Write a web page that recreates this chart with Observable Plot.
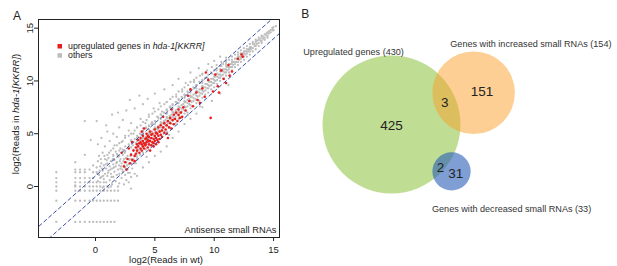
<!DOCTYPE html>
<html><head><meta charset="utf-8">
<script src="https://cdn.jsdelivr.net/npm/d3@7"></script>
<script src="https://cdn.jsdelivr.net/npm/@observablehq/plot@0.6"></script>
<style>
html,body{margin:0;padding:0;background:#fff;}
#fig{position:relative;width:617px;height:266px;overflow:hidden;font-family:"Liberation Sans",Arial,sans-serif;}
#fig svg{position:absolute;top:0;}
</style></head><body><div id="fig"></div>
<script>
// ---------- Panel A data ----------
const xTicks = [0, 5, 10, 15];
const yTicks = [0, 5, 10, 15];
const foldOffsets = [1, -1];
const panelATitle = "Antisense small RNAs";
const legendLabels = ["upregulated genes in ", "others"];

// low-count grid of "others" (x, list of y)
const lowGrid = [
 [-3.3,[1.35,0.8,0.4,0.0,-0.4,-1.35,-3.35]],
 [-1.7,[2.3,1.6,1.35,0.8,0.4,0.1,0.0,-0.4,-1.35,-3.35]],
 [-1.3,[1.6,1.35,0.8,0.4,0.0,-0.4,-1.35,-3.35]],
 [-0.9,[3.0,1.6,1.35,0.8,0.4,0.0,-0.4,-1.35,-3.35]],
 [-0.5,[1.6,0.8,0.4,0.0,-0.4,-1.35,-3.35]],
 [-0.2,[2.0,1.35,0.8,0.4,0.0,-0.4,-1.35,-3.35]],
 [0.1,[1.35,0.4,0.0,-0.4,-1.35,-3.35]],
 [0.4,[0.8,0.4,0.0,-0.4,-1.35,-3.35]],
 [0.7,[0.4,0.0,-0.4,-1.35,-3.35]],
 [1.0,[0.0,-0.4,-1.35,-3.35]],
 [1.3,[0.0,-0.4,-1.35,-3.35]],
 [1.6,[-0.4,-1.35,-3.35]],
 [1.9,[-0.4,-1.35]]
];
// dense blob of "others" at low counts
const lowBlob = [
 [0.1,1.8],[0.2,2.4],[0.3,1.1],[0.3,2.9],[0.4,1.9],[0.5,0.9],[0.5,2.2],[0.6,1.5],[0.6,3.2],[0.7,2.0],
 [0.7,0.7],[0.8,1.2],[0.8,2.6],[0.9,1.7],[0.9,0.4],[1.0,2.2],[1.0,1.0],[1.0,3.0],[1.1,1.5],[1.1,2.7],
 [1.2,0.6],[1.2,1.9],[1.3,2.4],[1.3,1.2],[1.3,3.4],[1.4,0.2],[1.4,1.7],[1.5,2.1],[1.5,0.9],[1.5,2.9],
 [1.6,1.4],[1.6,2.5],[1.7,0.5],[1.7,1.9],[1.7,3.3],[1.8,1.1],[1.8,2.3],[1.9,1.6],[1.9,2.8],[2.0,0.3],
 [2.0,2.0],[2.0,1.2],[2.1,2.6],[2.1,1.7],[2.1,3.6],[2.2,0.8],[2.2,2.2],[2.3,1.4],[2.3,3.0],[2.4,2.0],
 [2.4,2.6],[2.5,1.1],[2.5,1.8],[2.5,3.4],[2.6,2.3],[2.6,0.6],[2.7,2.9],[2.7,1.6],[2.8,2.1],[2.8,3.8],
 [2.9,2.6],[2.9,1.3],[3.0,2.2],[3.0,3.1],[3.0,0.9],[0.2,0.5],[0.6,-0.1],[1.1,-0.1],[1.9,0.0],[2.4,0.2],
 [2.8,0.4],[3.1,1.7],[3.2,2.6],[3.2,3.5],[3.3,1.2],[3.3,2.9],[3.4,2.2],[3.4,4.1],[3.5,2.6],[3.5,3.3],
 [0.35,1.5],[0.85,2.1],[1.25,1.6],[1.45,2.6],[1.75,2.2],[2.15,1.9],[2.35,2.4],[2.65,2.0],[2.95,2.9],[1.05,1.3],
 [0.45,2.6],[0.65,1.0],[0.95,2.5],[1.15,3.2],[1.35,0.9],[1.55,1.8],[1.85,3.0],[2.05,2.4],[2.25,1.6],[2.45,3.2],
 [2.55,2.7],[2.75,1.3],[2.85,2.5],[3.05,2.6],[3.15,3.9],[3.25,2.2],[3.45,2.9],[0.15,1.2],[0.55,1.7],[0.75,2.9]
];
// scattered "others" above / below the diagonal
const outliers = [
 [-0.9,6.2],[0.1,6.2],[-0.4,4.4],[0.2,4.0],[0.5,4.6],[0.8,3.8],[1.0,5.2],[1.2,4.3],[1.4,6.8],[1.6,3.9],
 [1.8,4.7],[2.0,5.6],[2.2,4.2],[2.3,6.3],[2.5,4.8],[2.6,7.2],[2.8,5.3],[3.0,4.4],[3.0,6.0],[3.2,5.0],
 [3.3,7.4],[3.5,5.6],[3.6,4.7],[3.8,6.4],[4.0,5.5],[4.0,7.8],[4.2,6.0],[4.4,8.3],[4.5,6.8],[4.7,5.9],
 [4.9,7.4],[5.0,8.8],[5.2,6.6],[5.4,7.9],[5.6,7.1],[5.8,9.2],[6.0,8.0],[6.3,7.6],[6.5,9.6],[6.8,8.5],
 [7.0,10.2],[7.3,9.0],[7.6,9.8],[8.0,10.8],[8.3,9.9],[8.7,11.2],[9.0,10.6],[9.5,11.6],[10.0,11.9],[10.5,12.3],
 [1.9,7.0],[0.9,5.8],[1.5,5.0],[2.9,8.2],[3.7,8.6],
 [3.5,1.0],[4.0,1.8],[4.5,2.3],[5.0,2.9],[5.5,3.3],[6.0,3.8],[6.5,4.6],[7.0,5.2],[7.5,5.9],[8.0,6.4],
 [8.5,6.9],[9.0,7.5],[9.8,8.1],[10.5,8.8],[11.2,9.6],[6.2,4.9],[7.8,6.8],[8.8,7.6],[3.0,-0.2],[4.3,2.8]
];
// main diagonal band of "others" (x, list of y)
const band = [
 [3.5,[3.2,3.9,4.6,2.8,4.3,3.6]],[3.6,[3.5,4.1]],[3.75,[3.5,4.4,3.0,5.0,4.0]],[3.9,[3.9,4.4]],
 [4.0,[3.7,4.6,3.2,5.3,4.1,4.9]],[4.1,[4.0,4.6]],[4.25,[4.1,4.7,3.5,5.6,4.4]],[4.4,[4.3,4.9]],
 [4.5,[4.2,5.1,3.9,5.7,4.6,5.4]],[4.6,[4.5,5.0]],[4.75,[4.6,5.2,4.0,6.1,4.9]],[4.9,[4.8,5.4]],
 [5.0,[4.7,5.6,4.4,6.2,5.1,5.9]],[5.1,[5.0,5.5]],[5.25,[5.1,5.7,4.5,6.6,5.4]],[5.4,[5.3,5.8]],
 [5.5,[5.2,6.1,4.9,6.8,5.6,6.4]],[5.6,[5.4,6.0]],[5.75,[5.6,6.2,5.0,7.0,5.9]],[5.9,[5.8,6.3]],
 [6.0,[5.7,6.6,5.2,7.3,6.1,6.9]],[6.1,[6.0,6.5]],[6.25,[6.1,6.7,5.6,7.5,6.4]],[6.4,[6.3,6.8]],
 [6.5,[6.2,7.1,5.9,7.8,6.6,7.4]],[6.6,[6.5,7.0]],[6.75,[6.6,7.2,6.0,8.0,6.9]],[6.9,[6.8,7.3]],
 [7.0,[6.7,7.6,6.4,8.3,7.1,7.9]],[7.1,[7.0,7.5]],[7.25,[7.1,7.7,6.5,8.5,7.4]],[7.4,[7.3,7.8]],
 [7.5,[7.2,8.1,6.9,8.7,7.6,8.4]],[7.6,[7.5,8.0]],[7.75,[7.6,8.2,7.0,9.0,7.9]],[7.9,[7.8,8.3]],
 [8.0,[7.7,8.6,7.4,9.2,8.1,8.9]],[8.1,[8.0,8.5]],[8.25,[8.1,8.7,7.6,9.4,8.4]],[8.4,[8.3,8.8]],
 [8.5,[8.2,9.0,7.9,9.6,8.6,9.3]],[8.6,[8.5,9.0]],[8.75,[8.6,9.2,8.1,9.9,8.9]],[8.9,[8.8,9.2]],
 [9.0,[8.8,9.5,8.4,10.1,9.1,9.8]],[9.1,[9.0,9.4]],[9.25,[9.1,9.7,8.7,10.3,9.4]],[9.4,[9.3,9.7]],
 [9.5,[9.3,10.0,8.9,10.6,9.6,10.2]],[9.6,[9.5,9.9]],[9.75,[9.6,10.2,9.2,10.8,9.9]],[9.9,[9.8,10.2]],
 [10.0,[9.8,10.4,9.4,11.0,10.1,10.6]],[10.1,[10.0,10.4]],[10.25,[10.1,10.7,9.7,11.2,10.4]],[10.4,[10.3,10.6]],
 [10.5,[10.3,10.9,10.0,11.4,10.6,11.1]],[10.6,[10.5,10.9]],[10.75,[10.6,11.1,10.2,11.6,10.9]],[10.9,[10.8,11.1]],
 [11.0,[10.8,11.4,10.5,11.9,11.1,11.6]],[11.1,[11.0,11.3]],[11.25,[11.1,11.6,10.8,12.0,11.3]],[11.4,[11.3,11.6]],
 [11.5,[11.3,11.8,11.0,12.3,11.6,12.0]],[11.6,[11.5,11.8]],[11.75,[11.6,12.1,11.3,12.5,11.8]],[11.9,[11.8,12.1]],
 [12.0,[11.8,12.3,11.5,12.7,12.1,12.5]],[12.1,[12.0,12.3]],[12.25,[12.1,12.6,11.8,12.9,12.3]],[12.4,[12.3,12.6]],
 [12.5,[12.3,12.8,12.0,13.1,12.6]],[12.6,[12.5,12.8]],[12.75,[12.6,13.0,12.3,13.3,12.8]],[12.9,[12.8,13.0]],
 [13.0,[12.8,13.2,12.5,13.5,13.0]],[13.1,[13.0,13.2]],[13.25,[13.1,13.5,12.8,13.7]],[13.4,[13.3,13.5]],
 [13.5,[13.3,13.7,13.0,13.9]],[13.6,[13.5,13.8]],[13.75,[13.6,13.9,13.3,14.1]],[13.9,[13.8,14.0]],
 [14.0,[13.8,14.2,13.6,14.3]],[14.1,[14.0,14.2]],[14.25,[14.1,14.4,13.9]],[14.4,[14.3,14.5]],
 [14.5,[14.3,14.6,14.1]],[14.6,[14.5,14.7]],[14.75,[14.6,14.8]],[14.9,[14.8,15.0]],[15.0,[14.8,15.1]],[15.2,[15.2]]
];
// upper half of the band (genes with more reads in the mutant)
const upperBand = [
 [1.5,[3.0,3.6,2.6]],[1.8,[3.1,3.9]],[2.0,[3.4,4.1,2.9]],[2.3,[3.5,4.3]],[2.5,[3.8,4.6,3.3]],[2.8,[4.0,4.8]],
 [3.0,[4.3,5.0,3.7]],[3.3,[4.5,5.3]],[3.5,[4.8,5.6,4.0]],[3.8,[5.0,5.8]],[4.0,[5.2,6.1,4.6]],[4.3,[5.5,6.3]],
 [4.5,[5.8,6.6,5.0]],[4.8,[6.0,6.9]],[5.0,[6.2,7.1,5.5]],[5.3,[6.5,7.3]],[5.5,[6.8,7.6,6.0]],[5.8,[7.0,7.8]],
 [6.0,[7.2,8.0,6.5]],[6.3,[7.5,8.3]],[6.5,[7.7,8.5,7.0]],[6.8,[8.0,8.7]],[7.0,[8.2,9.0,7.5]],[7.3,[8.4,9.2]],
 [7.5,[8.7,9.4,8.0]],[7.8,[8.9,9.6]],[8.0,[9.1,9.9,8.5]],[8.3,[9.3,10.1]],[8.5,[9.6,10.3,9.0]],[8.8,[9.8,10.5]],
 [9.0,[10.0,10.7,9.5]],[9.4,[10.3,11.0]],[9.8,[10.7,11.3]],[10.2,[11.0,11.5]],[10.6,[11.4,11.8]],[11.0,[11.8,12.2]]
];
// upregulated genes in hda-1[KKRR]
const upregulated = [
 [2.4,1.9],[2.5,2.3],[2.7,2.6],[2.9,2.2],[3.0,3.0],[3.1,2.5],[3.2,3.4],[3.3,2.9],[3.4,3.7],[3.4,3.1],
 [3.5,4.0],[3.5,3.4],[3.6,3.8],[3.6,4.4],[3.7,3.2],[3.7,4.1],[3.8,3.6],[3.8,4.6],[3.9,4.0],[3.9,3.4],
 [4.0,4.3],[4.0,3.8],[4.0,4.8],[4.1,3.6],[4.1,4.1],[4.2,4.5],[4.2,3.9],[4.3,4.2],[4.3,5.0],[4.4,3.7],
 [4.4,4.4],[4.5,4.0],[4.5,4.7],[4.6,4.3],[4.6,5.2],[4.7,3.9],[4.7,4.6],[4.8,4.2],[4.8,5.0],[4.9,4.5],
 [4.9,3.8],[5.0,4.8],[5.0,4.3],[5.0,5.4],[5.1,4.6],[5.1,4.0],[5.2,5.0],[5.2,4.4],[5.3,4.8],[5.3,5.6],
 [5.4,4.5],[5.4,5.2],[5.5,4.9],[5.5,5.8],[5.6,5.3],[5.6,4.7],[5.7,5.6],[5.8,5.1],[5.8,6.0],[5.9,5.4],
 [6.0,5.8],[6.0,5.0],[6.1,6.2],[6.2,5.6],[6.3,6.0],[6.3,6.5],[6.4,5.5],[6.5,6.3],[6.6,6.8],[6.6,5.9],
 [6.7,6.4],[6.8,7.0],[6.9,6.2],[7.0,6.8],[7.0,7.3],[7.1,6.5],[7.2,7.0],[7.3,6.6],[7.4,7.5],[7.6,7.2],
 [2.2,3.2],[2.8,3.6],[3.1,4.2],[2.6,1.6],[3.9,5.2],[4.1,5.5],[5.7,6.6],[6.4,7.3],[6.1,4.6],[4.6,3.4],
 [3.3,2.4],[4.3,4.6],[4.5,4.3],[4.7,4.9],[4.9,4.1],[5.1,5.1],[3.8,4.2],[4.2,4.0],[5.3,4.2],[4.4,4.8],
 [7.9,8.1],[8.2,7.6],[8.5,8.9],[8.8,7.9],[9.0,9.3],[9.2,8.5],[9.5,10.1],[9.7,6.5],[9.9,9.0],[10.1,10.6],
 [10.3,9.5],[10.6,11.0],[10.8,10.2],[11.0,9.8],[11.2,11.5],[11.5,10.9],[12.0,12.1],[12.3,12.5],[12.4,12.3],[8.0,9.2],
 [9.3,10.8],[10.4,8.9],[11.3,10.5],[7.8,8.6],[8.6,8.2]
];

const others = [
  ...lowGrid.flatMap(([x, ys]) => ys.map(y => [x, y])),
  ...lowBlob,
  ...outliers,
  ...band.flatMap(([x, ys]) => ys.map(y => [x, y])),
  ...upperBand.flatMap(([x, ys]) => ys.map(y => [x, y]))
];

// ---------- Panel B data ----------
const setNames = ["Upregulated genes", "Genes with increased small RNAs", "Genes with decreased small RNAs"];
const setTotals = [430, 154, 33];
const regionCounts = [425, 151, 3, 2, 31];

// ---------- Panel A ----------
const xDom = [-4.8, 15.5], yDom = [-4.83, 15.82];
const foldLines = foldOffsets.flatMap(o => [
  {o, x: xDom[0] - 2, y: xDom[0] - 2 + o},
  {o, x: xDom[1] + 2, y: xDom[1] + 2 + o}
]);
const font = "'Liberation Sans', Arial, sans-serif";

const A = Plot.plot({
  width: 290, height: 266,
  marginLeft: 38, marginRight: 11, marginTop: 19, marginBottom: 29,
  x: {domain: xDom}, y: {domain: yDom},
  style: {fontFamily: font, fontSize: "9px", color: "#222", background: "transparent", overflow: "visible"},
  marks: [
    Plot.dot(others, {x: d => d[0], y: d => d[1], r: 1.15, fill: "#bdbdbd", stroke: null}),
    Plot.dot(upregulated, {x: d => d[0], y: d => d[1], r: 1.3, fill: "#ea1c1c", stroke: null}),
    Plot.line(foldLines, {x: "x", y: "y", z: "o", stroke: "#3a4ea8", strokeWidth: 1, strokeDasharray: "3.5,3", clip: true}),
    Plot.frame({stroke: "#222", strokeWidth: 1}),
    Plot.axisX({ticks: xTicks, tickSize: 4, tickPadding: 4.5, label: null, fontSize: 9.5}),
    Plot.axisY({ticks: yTicks, tickSize: 4, tickPadding: 1.5, tickRotate: -90, label: null, fontSize: 9.5}),
    Plot.text([panelATitle], {frameAnchor: "bottom-right", dx: -3, dy: -5, fontSize: 9.3, fill: "#222"}),
    Plot.text(["A"], {frameAnchor: "top-left", dx: -25.5, dy: -8.5, fontSize: 12, fill: "#222"})
  ]
});

// axis titles and legend (with italic genotype)
const sA = d3.select(A);
const yt = sA.append("text")
  .attr("transform", "translate(18.5,114) rotate(-90)")
  .attr("text-anchor", "middle").attr("font-size", 9.5).attr("fill", "#222");
yt.append("tspan").text("log2(Reads in ");
yt.append("tspan").attr("font-style", "italic").text("hda-1[KKRR]");
yt.append("tspan").text(")");
sA.append("text").attr("x", 166).attr("y", 263).attr("text-anchor", "middle")
  .attr("font-size", 9.5).attr("fill", "#222").text("log2(Reads in wt)");

const legColors = ["#ea1c1c", "#bdbdbd"];
legendLabels.forEach((lab, i) => {
  sA.append("rect").attr("x", 57.5).attr("y", 44 + i * 9.2).attr("width", 4.5).attr("height", 4.5).attr("fill", legColors[i]);
  const t = sA.append("text").attr("x", 68).attr("y", 48.8 + i * 9.2).attr("text-anchor", "start")
    .attr("font-size", 8.8).attr("fill", "#222");
  t.append("tspan").text(lab);
  if (i === 0) t.append("tspan").attr("font-style", "italic").text("hda-1[KKRR]");
});

// ---------- Panel B (Venn) ----------
const circles = [
  {name: setNames[0], total: setTotals[0], cx: 0, cy: 0, fill: "rgba(127,187,39,0.5)"},
  {name: setNames[1], total: setTotals[1], cx: 1.19, cy: 0.46, fill: "rgba(251,159,43,0.5)"},
  {name: setNames[2], total: setTotals[2], cx: 0.87, cy: -0.68, fill: "rgba(42,93,183,0.6)"}
];
const regionPos = [[0, -0.02], [1.31, 0.48], [0.77, 0.31], [0.71, -0.62], [0.93, -0.71]];
const regions = regionCounts.map((n, i) => ({n: String(n), x: regionPos[i][0], y: regionPos[i][1]}));
const labelPos = [[-0.55, 1.05], [2.02, 1.17], [1.74, -1.23]];
const setLabels = setNames.map((s, i) => ({t: `${s} (${setTotals[i]})`, x: labelPos[i][0], y: labelPos[i][1]}));

const B = Plot.plot({
  width: 327, height: 266, margin: 0,
  x: {domain: [-1.464, 3.275], axis: null},
  y: {domain: [-2.058, 1.797], axis: null},
  r: {type: "sqrt", domain: [0, 430], range: [0, 69]},
  style: {fontFamily: font, background: "transparent", overflow: "visible"},
  marks: [
    Plot.dot(circles, {x: "cx", y: "cy", r: "total", fill: "fill", stroke: null}),
    Plot.text(regions, {x: "x", y: "y", text: "n", fontSize: 13.5, fill: "#222"}),
    Plot.text(setLabels, {x: "x", y: "y", text: "t", fontSize: 9.1, fill: "#333"}),
    Plot.text(["B"], {frameAnchor: "top-left", dx: 10.7, dy: 8.7, fontSize: 12, fill: "#222"})
  ]
});
B.style.left = "290px";
A.style.left = "0px";
const fig = document.getElementById("fig");
fig.append(A, B);
</script></body></html>
